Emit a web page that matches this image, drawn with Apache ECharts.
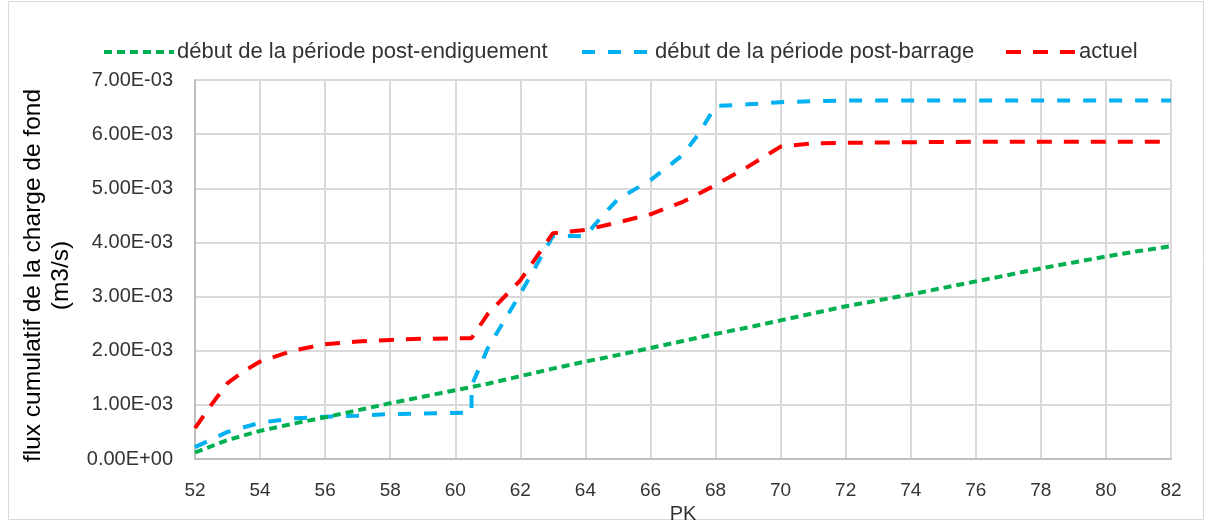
<!DOCTYPE html>
<html>
<head>
<meta charset="utf-8">
<script src="https://cdn.jsdelivr.net/npm/echarts@6/dist/echarts.min.js"></script>
<style>
html,body{margin:0;padding:0;background:#fff;}
#chart{width:1206px;height:522px;}
</style>
</head>
<body>
<div id="chart"></div>
<script>
// ---- data ----
const seriesNames = ['début de la période post-endiguement', 'début de la période post-barrage', 'actuel'];

const greenPK = [52,53,54,55,56,57,58,59,60,61,62,63,64,65,66,67,68,69,70,71,72,73,74,75,76,77,78,79,80,81,82];
const greenFlux = [0.12e-3,0.35e-3,0.52e-3,0.65e-3,0.77e-3,0.90e-3,1.03e-3,1.15e-3,1.27e-3,1.39e-3,1.53e-3,1.67e-3,1.80e-3,1.92e-3,2.05e-3,2.18e-3,2.31e-3,2.43e-3,2.56e-3,2.69e-3,2.82e-3,2.93e-3,3.04e-3,3.16e-3,3.28e-3,3.40e-3,3.52e-3,3.63e-3,3.74e-3,3.84e-3,3.93e-3];

const bluePK = [52,53,54,55,56,57,58,59,60,60.5,60.5,61,62,63,64,64.5,65,66,67,67.5,68,69,70,71,72,74,76,78,80,82];
const blueFlux = [0.22e-3,0.50e-3,0.67e-3,0.75e-3,0.78e-3,0.80e-3,0.83e-3,0.84e-3,0.85e-3,0.86e-3,1.35e-3,2.05e-3,3.05e-3,4.12e-3,4.12e-3,4.48e-3,4.80e-3,5.15e-3,5.62e-3,6.02e-3,6.52e-3,6.55e-3,6.59e-3,6.61e-3,6.62e-3,6.62e-3,6.62e-3,6.62e-3,6.62e-3,6.62e-3];

const redPK = [52,52.5,53,53.5,54,55,56,57,58,59,60,60.5,61,62,63,64,65,66,67,68,69,70,71,72,74,76,78,80,82];
const redFlux = [0.57e-3,1.00e-3,1.40e-3,1.62e-3,1.80e-3,2.00e-3,2.12e-3,2.17e-3,2.20e-3,2.22e-3,2.23e-3,2.23e-3,2.68e-3,3.30e-3,4.17e-3,4.23e-3,4.37e-3,4.52e-3,4.75e-3,5.06e-3,5.40e-3,5.77e-3,5.83e-3,5.84e-3,5.85e-3,5.86e-3,5.86e-3,5.86e-3,5.86e-3];

const yTickLabels = ['0.00E+00','1.00E-03','2.00E-03','3.00E-03','4.00E-03','5.00E-03','6.00E-03','7.00E-03'];
const yTitle = 'flux cumulatif de la charge de fond\n(m3/s)';
const xTitle = 'PK';

// ---- chart ----
function pairs(xs, ys){ return xs.map((x,i)=>[x, ys[i]]); }
const FONT = 'Liberation Sans';
const TXT = '#333333';
const chart = echarts.init(document.getElementById('chart'), null, {renderer:'canvas'});

function legendFor(name, left){
  return {
    data:[name], left:left, top:36, itemWidth:70, itemHeight:14, itemGap:6,
    itemStyle:{opacity:0},
    lineStyle:{width:4},
    textStyle:{fontFamily:FONT, fontSize:22, color:TXT, padding:[0,0,0,-2]}
  };
}

chart.setOption({
  animation:false,
  backgroundColor:'#fff',
  graphic:[{type:'rect', shape:{x:8.5,y:1.5,width:1195,height:518}, style:{fill:'none', stroke:'#d9d9d9', lineWidth:1}, silent:true}],
  legend:[legendFor(seriesNames[0], 97), legendFor(seriesNames[1], 575), legendFor(seriesNames[2], 999)],
  grid:{left:195, right:35, top:80, bottom:63, containLabel:false, outerBoundsMode:'none'},
  xAxis:{
    type:'value', min:52, max:82, interval:2,
    name:xTitle, nameLocation:'middle', nameGap:37,
    nameTextStyle:{fontFamily:FONT, fontSize:20, color:TXT},
    axisLine:{show:true, lineStyle:{color:'#bfbfbf', width:2}},
    axisTick:{show:false},
    axisLabel:{fontFamily:FONT, fontSize:19, color:TXT, margin:22},
    splitLine:{show:true, lineStyle:{color:'#d9d9d9', width:2}}
  },
  yAxis:{
    type:'value', min:0, max:0.007, interval:0.001,
    name:yTitle, nameLocation:'middle', nameGap:120, nameRotate:90,
    nameTextStyle:{fontFamily:FONT, fontSize:24.5, color:'#000', lineHeight:28, align:'center', padding:[0,12,0,0]},
    axisLine:{show:true, lineStyle:{color:'#bfbfbf', width:2}},
    axisTick:{show:false},
    axisLabel:{fontFamily:FONT, fontSize:20, color:TXT, margin:22,
      formatter:function(v){ return yTickLabels[Math.round(v/0.001)]; }},
    splitLine:{show:true, lineStyle:{color:'#d9d9d9', width:2}}
  },
  series:[
    {name:seriesNames[0], type:'line', data:pairs(greenPK, greenFlux), symbol:'none', smooth:false,
     lineStyle:{color:'#00B050', width:4, type:[8,5]}, itemStyle:{color:'#00B050'}, z:3},
    {name:seriesNames[1], type:'line', data:pairs(bluePK, blueFlux), symbol:'none', smooth:false,
     lineStyle:{color:'#00B0F0', width:4, type:[13,13]}, itemStyle:{color:'#00B0F0'}, z:2},
    {name:seriesNames[2], type:'line', data:pairs(redPK, redFlux), symbol:'none', smooth:false,
     lineStyle:{color:'#FF0000', width:4, type:[15,12]}, itemStyle:{color:'#FF0000'}, z:4}
  ]
});
</script>
</body>
</html>
